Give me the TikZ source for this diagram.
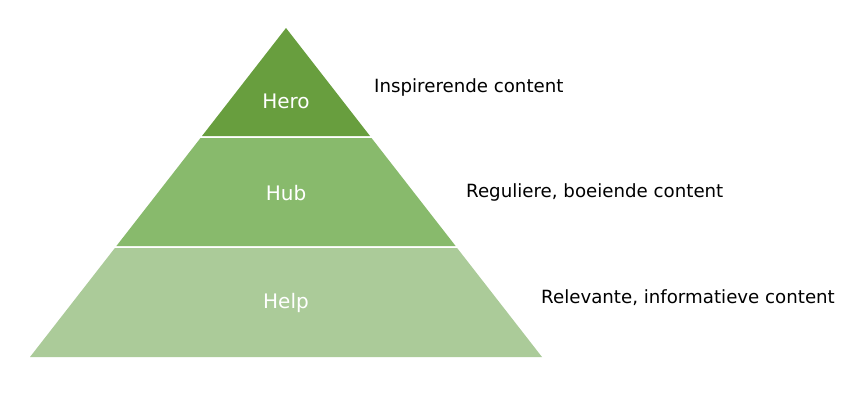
\documentclass[tikz,border=0pt]{standalone}
\usepackage{fontspec}
\setmainfont{DejaVu Sans}
\definecolor{heroC}{HTML}{689E3E}
\definecolor{hubC}{HTML}{88BA6C}
\definecolor{helpC}{HTML}{ABCB99}
\begin{document}
\begin{tikzpicture}[x=1pt,y=-1pt,
  layer/.style={draw=none},
  intext/.style={text=white,font=\fontsize{20}{24}\selectfont,inner sep=0pt},
  side/.style={text=black,font=\fontsize{18.2}{22}\selectfont,anchor=west,inner sep=0pt}]
\useasboundingbox[fill=white] (0,0) rectangle (850,400);
% layers
\fill[heroC,layer] (286,28) -- (370,136) -- (202,136) -- cycle;
\fill[hubC,layer] (200.5,138) -- (371.5,138) -- (455.6,246) -- (116.4,246) -- cycle;
\fill[helpC,layer] (114.9,248) -- (457.1,248) -- (542,357) -- (30,357) -- cycle;
% labels
\node[intext] (hero) at (286,101.5) {Hero};
\node[intext] (hub) at (286,193) {Hub};
\node[intext] (help) at (286,303) {Help};
\node[side] (d1) at (374,87) {Inspirerende content};
\node[side] (d2) at (466,192) {Reguliere, boeiende content};
\node[side] (d3) at (541,298) {Relevante, informatieve content};
\end{tikzpicture}
\end{document}
